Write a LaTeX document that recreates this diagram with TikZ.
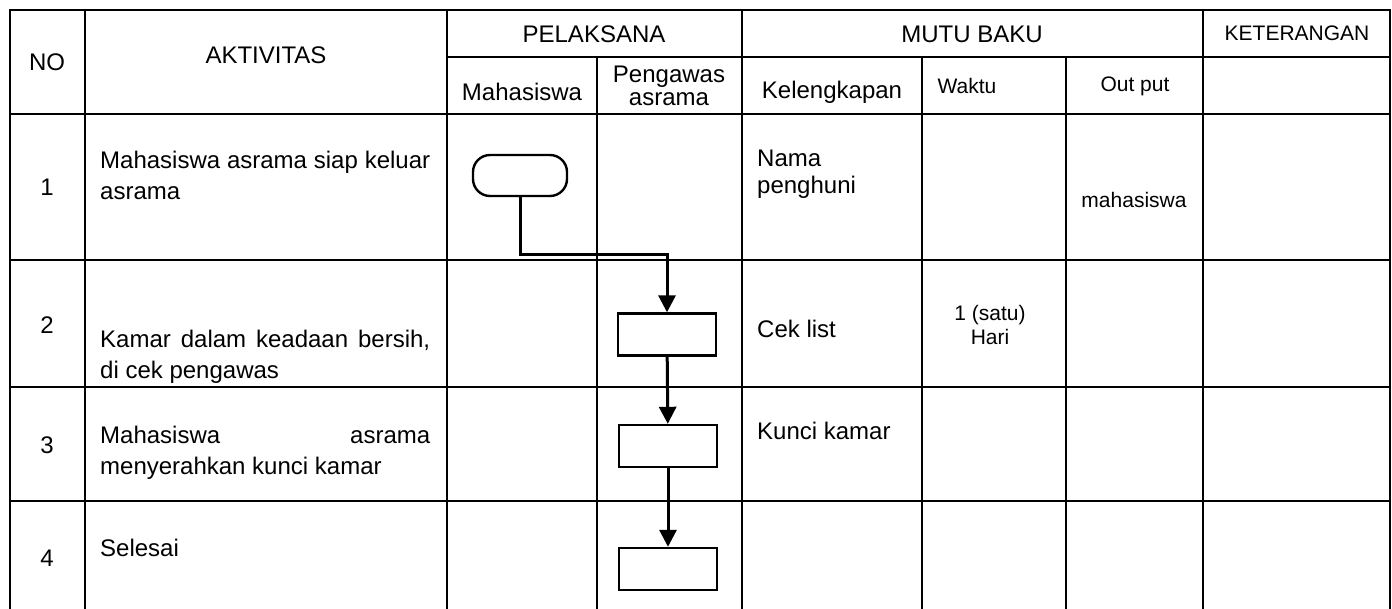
\documentclass[tikz,border=0pt]{standalone}
\usepackage{fontspec}
\setmainfont{Liberation Sans}
\usetikzlibrary{arrows.meta}
\setlength{\parindent}{0pt}
\begin{document}
\begin{tikzpicture}[x=1pt,y=-1pt]
\tikzset{
    rule/.style={line width=2.8pt, line cap=rect},
    cell/.style={font=\fontsize{24}{29}\selectfont, inner sep=0pt},
    small/.style={font=\fontsize{21}{24}\selectfont, inner sep=0pt, align=center},
    activity/.style={cell, text width=330pt, align=justify, anchor=base west, font=\fontsize{24}{31.5}\selectfont},
    process/.style={draw, line width=2.4pt, minimum width=98pt, minimum height=42pt, inner sep=0pt},
    terminal/.style={draw, line width=2.4pt, rounded corners=17pt, minimum width=94pt, minimum height=41pt, inner sep=0pt},
    arc/.style={line width=3pt, -{Triangle[length=17pt,width=17pt]}}
}
\useasboundingbox (0,0) rectangle (1392,608);

% table
\foreach \y in {10,114,260,387,501}{
\draw[rule] (10,\y) -- (1390,\y);
}
\draw[rule] (447,57) -- (1390,57);
\foreach \x in {10,85,447,742,1203,1390}{
\draw[rule] (\x,10) -- (\x,608);
}
\foreach \x in {597,922,1066}{
\draw[rule] (\x,57) -- (\x,608);
}

% header
\node[cell] (no) at (47,62) {NO};
\node[cell] (aktivitas) at (266,55) {AKTIVITAS};
\node[cell] (pelaksana) at (594,34) {PELAKSANA};
\node[cell] (mutu) at (972,34) {MUTU BAKU};
\node[small] (ket) at (1297,33) {KETERANGAN};
\node[cell] (mhs) at (522,92) {Mahasiswa};
\node[cell, align=center, font=\fontsize{24}{23}\selectfont] (pengawas) at (669,86) {Pengawas\\asrama};
\node[cell] (lengkap) at (832,92) {Kelengkapan};
\node[small] (waktu) at (967,86) {Waktu};
\node[small] (output) at (1135,86) {Out put};

% rows
\node[cell] (n1) at (47,187) {1};
\node[cell] (n2) at (47,325) {2};
\node[cell] (n3) at (47,445) {3};
\node[cell] (n4) at (47,558) {4};
\node[activity] (a1) at (100,168) {Mahasiswa asrama siap keluar\linebreak asrama};
\node[activity] (a2) at (100,347) {Kamar dalam keadaan bersih,\linebreak di cek pengawas};
\node[activity] (a3) at (100,443) {Mahasiswa asrama\linebreak menyerahkan kunci kamar};
\node[activity] (a4) at (100,556) {Selesai};
\node[cell, anchor=base west, align=left, font=\fontsize{24}{27}\selectfont] (nama) at (757,193) {Nama\\penghuni};
\node[cell, anchor=base west] (cek) at (757,337) {Cek list};
\node[cell, anchor=base west] (kunci) at (757,439) {Kunci kamar};
\node[small] (satu) at (990,325) {1 (satu)\\Hari};
\node[small] (mhsout) at (1134,200) {mahasiswa};

% flow
\node[terminal] (start) at (520,175.5) {};
\node[process] (cek2) at (667,334.5) {};
\node[process] (kunci3) at (668,446) {};
\node[process] (done4) at (668,569) {};
\coordinate (bend) at (667,254);
\draw[arc] (start.south) |- (bend) -- (cek2);
\foreach \x/\y in {cek2/kunci3, kunci3/done4}{
\draw (\x) edge[arc] (\y);
}
\end{tikzpicture}
\end{document}
